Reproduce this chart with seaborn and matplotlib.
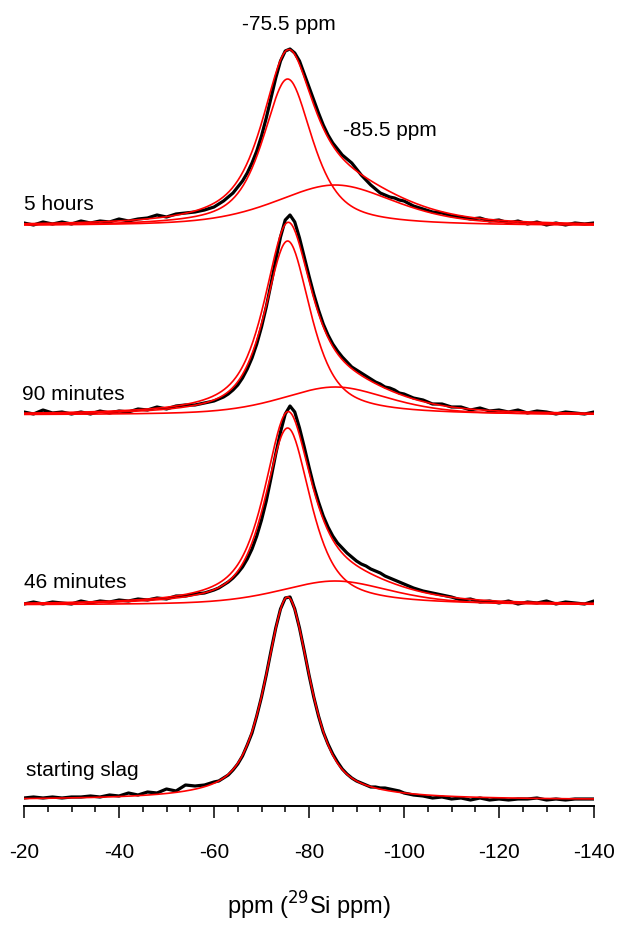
import numpy as np
import pandas as pd
import matplotlib
matplotlib.use("Agg")
import matplotlib.pyplot as plt
import seaborn as sns

sns.set_theme(style="white")
plt.rcParams["font.family"] = ["Liberation Sans", "DejaVu Sans"]
plt.rcParams["axes.unicode_minus"] = False

# Chemical shift axis of the measured spectra (ppm)
ppm = [-20, -22, -24, -26, -28, -30, -32, -34, -36, -38, -40, -42, -44, -46, -48, -50, -52, -54, -56, -58,
       -60, -61, -62, -63, -64, -65, -66, -67, -68, -69, -70, -71, -72, -73, -74, -75, -76, -77, -78, -79, -80,
       -81, -82, -83, -84, -85, -86, -87, -88, -89, -90, -91, -92, -93, -94, -95, -96, -97, -98, -99, -100,
       -102, -104, -106, -108, -110, -112, -114, -116, -118, -120, -122, -124, -126, -128, -130, -132, -134,
       -136, -138, -140]

# Measured 29Si MAS NMR intensities (arbitrary units)
slag_start = [2, 3, 2, 3, 2, 3, 3, 4, 3, 5, 4, 7, 5, 8, 7, 11, 9, 15, 14, 15,
              18, 19, 22, 25, 30, 36, 44, 55, 67, 84, 103, 125, 149, 172, 191, 202, 203, 191, 172, 149, 125,
              103, 84, 68, 56, 46, 38, 31, 26, 22, 19, 17, 15, 13, 13, 12, 12, 11, 10, 9, 7,
              5, 4, 2, 3, 1, 2, 0, 2, 0, 1, 0, 1, 1, 2, 0, 1, 0, 1, 1, 1]
slag_46min = [1, 3, 1, 3, 2, 1, 4, 2, 4, 3, 5, 4, 6, 5, 7, 6, 9, 9, 11, 12,
              15, 17, 20, 23, 27, 32, 38, 46, 56, 69, 85, 104, 127, 151, 173, 191, 199, 193, 177, 158, 138,
              119, 103, 89, 78, 69, 62, 57, 52, 48, 44, 41, 39, 36, 34, 32, 29, 27, 25, 23, 21,
              17, 14, 12, 10, 8, 5, 6, 3, 4, 2, 4, 1, 3, 2, 4, 1, 3, 2, 1, 4]
slag_90min = [3, 1, 5, 2, 3, 1, 3, 1, 4, 2, 4, 3, 6, 5, 8, 6, 9, 10, 10, 12,
              14, 16, 18, 21, 25, 30, 37, 46, 57, 71, 88, 108, 131, 155, 178, 195, 200, 193, 177, 158, 139,
              121, 105, 91, 80, 71, 64, 58, 53, 48, 45, 42, 39, 36, 33, 31, 28, 27, 25, 22, 21,
              17, 15, 11, 11, 8, 8, 5, 7, 4, 5, 3, 5, 2, 4, 3, 1, 3, 2, 1, 3]
slag_5h = [3, 1, 4, 2, 4, 2, 5, 3, 5, 4, 7, 5, 7, 8, 11, 9, 12, 13, 14, 16,
           19, 22, 25, 29, 33, 39, 45, 53, 63, 75, 90, 108, 128, 148, 165, 175, 177, 173, 165, 152, 139,
           126, 113, 101, 91, 83, 77, 71, 67, 63, 57, 51, 46, 41, 37, 33, 31, 29, 28, 26, 25,
           20, 17, 14, 13, 10, 9, 7, 8, 5, 6, 3, 5, 2, 4, 1, 3, 1, 3, 2, 3]

sample_labels = ["starting slag", "46 minutes", "90 minutes", "5 hours"]
stack_offsets = [6, 201, 391, 580]

# Fitted components (pseudo-Voigt): main Q0 site and broad product site
main_center = [-75.5, -75.5, -75.5, -75.5]
main_height = [203, 177, 174, 147]
main_fwhm = [11.2, 11.5, 11.5, 12.4]
broad_center = [-85.5, -85.5, -85.5, -85.5]
broad_height = [0, 24, 28, 41]
broad_fwhm = [30, 28, 27, 30]
ETA_MAIN = 0.7
ETA_BROAD = 0.5

peak_labels = ["-75.5 ppm", "-85.5 ppm"]


def pvoigt(x, c, h, w, eta):
    g = np.exp(-4 * np.log(2) * ((x - c) / w) ** 2)
    l = 1.0 / (1.0 + (2 * (x - c) / w) ** 2)
    return h * (eta * l + (1 - eta) * g)


spectra = [slag_start, slag_46min, slag_90min, slag_5h]
xf = np.linspace(-20, -140, 601)

fig = plt.figure(figsize=(6.17, 9.26), dpi=100)
ax = fig.add_axes([24 / 617, 120 / 926, 570 / 617, 806 / 926])

for i, spec in enumerate(spectra):
    off = stack_offsets[i]
    df = pd.DataFrame({"ppm": ppm, "intensity": np.array(spec) + off})
    sns.lineplot(data=df, x="ppm", y="intensity", ax=ax, color="black",
                 linewidth=2.3, sort=False, estimator=None, zorder=2)

    main = pvoigt(xf, main_center[i], main_height[i], main_fwhm[i], ETA_MAIN)
    broad = pvoigt(xf, broad_center[i], broad_height[i], broad_fwhm[i], ETA_BROAD)
    fit = pd.DataFrame({"ppm": xf, "total": main + broad + off,
                        "main": main + off, "broad": broad + off})
    sns.lineplot(data=fit, x="ppm", y="total", ax=ax, color="#ff0000",
                 linewidth=1.2, sort=False, estimator=None, zorder=3)
    if broad_height[i] > 0:
        sns.lineplot(data=fit, x="ppm", y="main", ax=ax, color="#ff0000",
                     linewidth=1.2, sort=False, estimator=None, zorder=3)
        sns.lineplot(data=fit, x="ppm", y="broad", ax=ax, color="#ff0000",
                     linewidth=1.2, sort=False, estimator=None, zorder=3)

ax.set_xlim(-20, -140)
ax.set_ylim(0, 806)
sns.despine(ax=ax, left=True)
ax.set_yticks([])
ax.set_ylabel("")
ax.set_xticks(np.arange(-20, -141, -20))
ax.set_xticks(np.arange(-20, -141, -5), minor=True)
ax.tick_params(axis="x", which="major", direction="out", length=8.6, width=1.1,
               color="black", labelsize=15, labelcolor="black", pad=18, bottom=True)
ax.tick_params(axis="x", which="minor", direction="out", length=4.3, width=1.1,
               color="black", bottom=True)
ax.spines["bottom"].set_linewidth(1.4)
ax.spines["bottom"].set_color("black")
ax.set_xlabel("ppm ($^{29}$Si ppm)", fontsize=17, labelpad=20, color="black")

label_x = [-20.5, -20.0, -19.6, -20.0]
label_y = [35, 224, 412, 602]
for i, lab in enumerate(sample_labels):
    ax.text(label_x[i], label_y[i], lab, fontsize=15, va="center", ha="left", color="black")

ax.text(-75.8, 781, peak_labels[0], fontsize=15, va="center", ha="center", color="black")
ax.text(-87.1, 676, peak_labels[1], fontsize=15, va="center", ha="left", color="black")

fig.savefig("out.png", dpi=100)
